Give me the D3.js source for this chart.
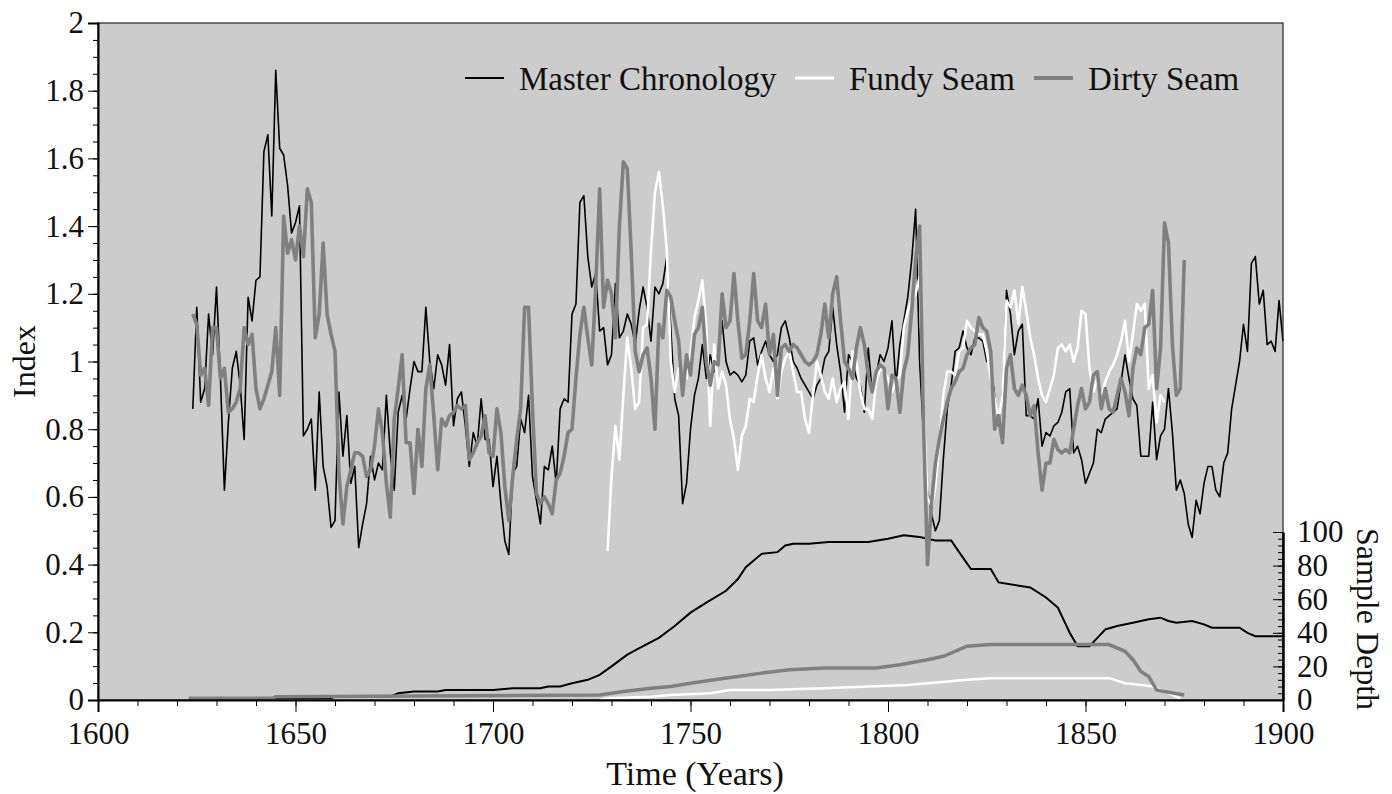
<!DOCTYPE html>
<html>
<head>
<meta charset="utf-8">
<script src="https://cdn.jsdelivr.net/npm/d3@7"></script>
<style>
  body { margin: 0; background: #fff; }
  svg text { font-family: "Liberation Serif", "Times New Roman", serif; fill: #111; }
</style>
</head>
<body>
<div id="chart"></div>
<script>
// master chronology index [year, index]
const masterIndex = [
  [1624,0.86],[1625,1.16],[1626,0.88],[1627,0.92],[1628,1.14],[1629,1.02],[1630,1.22],[1631,0.95],[1632,0.62],[1633,0.82],
  [1634,0.98],[1635,1.03],[1636,0.93],[1637,0.77],[1638,1.19],[1639,1.12],[1640,1.24],[1641,1.25],[1642,1.62],[1643,1.67],
  [1644,1.43],[1645,1.86],[1646,1.63],[1647,1.61],[1648,1.52],[1649,1.38],[1650,1.41],[1651,1.46],[1652,0.78],[1653,0.80],
  [1654,0.83],[1655,0.62],[1656,0.91],[1657,0.69],[1658,0.63],[1659,0.51],[1660,0.53],[1661,0.91],[1662,0.72],[1663,0.84],
  [1664,0.64],[1665,0.69],[1666,0.45],[1667,0.52],[1668,0.58],[1669,0.72],[1670,0.65],[1671,0.70],[1672,0.68],[1673,0.90],
  [1674,0.73],[1675,0.62],[1676,0.85],[1677,0.90],[1678,0.83],[1679,0.92],[1680,1.00],[1681,0.97],[1682,0.97],[1683,1.16],
  [1684,1.00],[1685,0.92],[1686,1.02],[1687,0.99],[1688,0.93],[1689,1.05],[1690,0.81],[1691,0.89],[1692,0.91],[1693,0.81],
  [1694,0.69],[1695,0.79],[1696,0.75],[1697,0.89],[1698,0.77],[1699,0.77],[1700,0.63],[1701,0.72],[1702,0.58],[1703,0.47],
  [1704,0.43],[1705,0.67],[1706,0.69],[1707,0.83],[1708,0.79],[1709,0.90],[1710,0.66],[1711,0.59],[1712,0.52],[1713,0.69],
  [1714,0.68],[1715,0.75],[1716,0.64],[1717,0.86],[1718,0.89],[1719,0.88],[1720,1.14],[1721,1.17],[1722,1.47],[1723,1.49],
  [1724,1.31],[1725,1.22],[1726,1.26],[1727,1.09],[1728,1.10],[1729,0.99],[1730,1.02],[1731,1.23],[1732,1.07],[1733,1.09],
  [1734,1.14],[1735,1.11],[1736,1.05],[1737,1.15],[1738,1.22],[1739,1.16],[1740,1.06],[1741,1.22],[1742,1.20],[1743,1.23],
  [1744,1.31],[1745,1.10],[1746,0.89],[1747,0.84],[1748,0.58],[1749,0.64],[1750,0.80],[1751,0.90],[1752,0.95],[1753,1.05],
  [1754,0.95],[1755,1.02],[1756,0.97],[1757,1.03],[1758,1.12],[1759,1.00],[1760,0.96],[1761,0.97],[1762,0.96],[1763,0.94],
  [1764,0.96],[1765,1.06],[1766,1.07],[1767,0.99],[1768,1.03],[1769,1.06],[1770,1.02],[1771,1.00],[1772,1.02],[1773,1.10],
  [1774,1.12],[1775,1.07],[1776,1.00],[1777,0.98],[1778,0.95],[1779,0.93],[1780,0.91],[1781,0.89],[1782,0.93],[1783,0.95],
  [1784,1.01],[1785,1.03],[1786,1.16],[1787,1.05],[1788,0.97],[1789,0.85],[1790,1.02],[1791,1.00],[1792,0.95],[1793,0.93],
  [1794,0.85],[1795,1.04],[1796,0.91],[1797,0.96],[1798,1.02],[1799,1.00],[1800,1.04],[1801,1.12],[1802,0.93],[1803,1.05],
  [1804,1.12],[1805,1.19],[1806,1.30],[1807,1.45],[1808,1.00],[1809,0.78],[1810,0.62],[1811,0.55],[1812,0.50],[1813,0.53],
  [1814,0.71],[1815,0.86],[1816,0.93],[1817,1.03],[1818,1.04],[1819,1.09],[1820,1.04],[1821,1.02],[1822,1.07],[1823,1.07],
  [1824,1.06],[1825,1.00],[1826,0.99],[1827,0.90],[1828,0.81],[1829,0.91],[1830,1.21],[1831,1.14],[1832,1.02],[1833,1.09],
  [1834,1.11],[1835,0.84],[1836,0.84],[1837,0.83],[1838,0.89],[1839,0.75],[1840,0.79],[1841,0.78],[1842,0.81],[1843,0.82],
  [1844,0.85],[1845,0.91],[1846,0.92],[1847,0.73],[1848,0.75],[1849,0.71],[1850,0.64],[1851,0.67],[1852,0.70],[1853,0.80],
  [1854,0.79],[1855,0.83],[1856,0.84],[1857,0.85],[1858,0.86],[1859,0.94],[1860,1.02],[1861,0.95],[1862,0.89],[1863,0.87],
  [1864,0.72],[1865,0.72],[1866,0.72],[1867,0.88],[1868,0.71],[1869,0.78],[1870,0.80],[1871,0.92],[1872,0.79],[1873,0.62],
  [1874,0.65],[1875,0.61],[1876,0.52],[1877,0.48],[1878,0.59],[1879,0.55],[1880,0.64],[1881,0.69],[1882,0.69],[1883,0.62],
  [1884,0.60],[1885,0.70],[1886,0.73],[1887,0.86],[1888,0.93],[1889,1.00],[1890,1.11],[1891,1.03],[1892,1.29],[1893,1.31],
  [1894,1.17],[1895,1.21],[1896,1.05],[1897,1.06],[1898,1.03],[1899,1.18],[1900,1.06]
];

// fundy seam index
const fundyIndex = [
  [1729,0.44],[1730,0.66],[1731,0.81],[1732,0.71],[1733,0.90],[1734,1.07],[1735,0.98],[1736,0.86],[1737,0.88],[1738,1.10],
  [1739,1.11],[1740,1.33],[1741,1.50],[1742,1.56],[1743,1.46],[1744,1.33],[1745,1.00],[1746,0.91],[1747,0.98],[1748,0.95],
  [1749,0.95],[1750,1.02],[1751,1.13],[1752,1.18],[1753,1.24],[1754,1.10],[1755,0.81],[1756,1.05],[1757,0.92],[1758,0.97],
  [1759,0.93],[1760,0.83],[1761,0.77],[1762,0.68],[1763,0.78],[1764,0.81],[1765,0.89],[1766,0.88],[1767,0.96],[1768,1.02],
  [1769,0.95],[1770,0.91],[1771,0.98],[1772,0.89],[1773,0.97],[1774,1.01],[1775,1.03],[1776,0.97],[1777,0.91],[1778,0.91],
  [1779,0.83],[1780,0.79],[1781,0.90],[1782,1.00],[1783,0.96],[1784,0.91],[1785,0.89],[1786,0.95],[1787,0.88],[1788,0.92],
  [1789,0.94],[1790,0.83],[1791,1.03],[1792,1.00],[1793,0.91],[1794,0.86],[1795,0.86],[1796,0.83],[1797,0.94],[1798,0.98],
  [1799,0.97],[1800,0.95],[1801,0.91],[1802,0.94],[1803,0.96],[1804,1.10],[1805,1.15],[1806,1.18],[1807,1.20],[1808,1.25],
  [1809,0.86],[1810,0.60],[1811,0.57],[1812,0.63],[1813,0.76],[1814,0.90],[1815,0.97],[1816,0.97],[1817,0.96],[1818,1.03],
  [1819,1.04],[1820,1.12],[1821,1.10],[1822,1.09],[1823,1.08],[1824,1.08],[1825,1.03],[1826,0.95],[1827,0.89],[1828,0.83],
  [1829,0.90],[1830,1.18],[1831,1.16],[1832,1.21],[1833,1.11],[1834,1.22],[1835,1.15],[1836,1.07],[1837,1.02],[1838,0.95],
  [1839,0.90],[1840,0.88],[1841,0.92],[1842,0.96],[1843,1.04],[1844,1.05],[1845,1.03],[1846,1.05],[1847,1.00],[1848,1.04],
  [1849,1.15],[1850,1.14],[1851,0.98],[1852,0.91],[1853,0.95],[1854,0.89],[1855,0.94],[1856,0.97],[1857,0.99],[1858,1.02],
  [1859,1.06],[1860,1.12],[1861,1.00],[1862,1.08],[1863,1.17],[1864,1.15],[1865,1.17],[1866,0.92],[1867,0.96],[1868,0.82],
  [1869,0.90],[1870,0.88]
];

// dirty seam index
const dirtyIndex = [
  [1624,1.14],[1625,1.11],[1626,0.96],[1627,0.98],[1628,0.87],[1629,1.10],[1630,1.10],[1631,0.95],[1632,0.98],[1633,0.85],
  [1634,0.86],[1635,0.88],[1636,0.92],[1637,1.10],[1638,1.05],[1639,1.08],[1640,0.92],[1641,0.86],[1642,0.89],[1643,0.93],
  [1644,0.97],[1645,1.10],[1646,0.90],[1647,1.43],[1648,1.32],[1649,1.36],[1650,1.30],[1651,1.40],[1652,1.31],[1653,1.51],
  [1654,1.47],[1655,1.07],[1656,1.14],[1657,1.35],[1658,1.14],[1659,1.08],[1660,1.03],[1661,0.67],[1662,0.52],[1663,0.63],
  [1664,0.68],[1665,0.73],[1666,0.73],[1667,0.72],[1668,0.66],[1669,0.68],[1670,0.75],[1671,0.86],[1672,0.79],[1673,0.64],
  [1674,0.54],[1675,0.83],[1676,0.92],[1677,1.02],[1678,0.76],[1679,0.76],[1680,0.61],[1681,0.80],[1682,0.69],[1683,0.92],
  [1684,0.99],[1685,0.84],[1686,0.68],[1687,0.83],[1688,0.81],[1689,0.84],[1690,0.85],[1691,0.87],[1692,0.86],[1693,0.87],
  [1694,0.71],[1695,0.73],[1696,0.76],[1697,0.78],[1698,0.84],[1699,0.73],[1700,0.72],[1701,0.86],[1702,0.79],[1703,0.63],
  [1704,0.53],[1705,0.66],[1706,0.77],[1707,0.86],[1708,1.16],[1709,1.16],[1710,0.86],[1711,0.61],[1712,0.58],[1713,0.60],
  [1714,0.58],[1715,0.55],[1716,0.65],[1717,0.67],[1718,0.72],[1719,0.79],[1720,0.80],[1721,0.95],[1722,1.08],[1723,1.16],
  [1724,1.07],[1725,0.99],[1726,1.22],[1727,1.51],[1728,1.16],[1729,1.24],[1730,1.20],[1731,1.07],[1732,1.40],[1733,1.59],
  [1734,1.57],[1735,1.32],[1736,1.03],[1737,0.97],[1738,1.02],[1739,1.04],[1740,0.95],[1741,0.80],[1742,1.11],[1743,1.07],
  [1744,1.21],[1745,1.19],[1746,1.12],[1747,1.06],[1748,0.90],[1749,1.02],[1750,0.96],[1751,1.08],[1752,1.10],[1753,1.16],
  [1754,1.00],[1755,0.93],[1756,1.00],[1757,0.99],[1758,1.20],[1759,1.10],[1760,1.12],[1761,1.26],[1762,1.12],[1763,1.01],
  [1764,1.02],[1765,1.12],[1766,1.26],[1767,1.12],[1768,1.10],[1769,1.17],[1770,1.02],[1771,1.08],[1772,0.90],[1773,1.04],
  [1774,1.05],[1775,1.03],[1776,1.05],[1777,1.04],[1778,1.02],[1779,1.00],[1780,0.99],[1781,1.00],[1782,1.02],[1783,1.08],
  [1784,1.17],[1785,1.07],[1786,1.20],[1787,1.25],[1788,1.12],[1789,1.00],[1790,0.98],[1791,0.95],[1792,1.04],[1793,1.10],
  [1794,1.05],[1795,0.96],[1796,0.91],[1797,0.97],[1798,0.99],[1799,0.98],[1800,0.86],[1801,0.96],[1802,0.95],[1803,0.85],
  [1804,0.97],[1805,1.02],[1806,1.15],[1807,1.30],[1808,1.40],[1809,0.81],[1810,0.40],[1811,0.58],[1812,0.70],[1813,0.77],
  [1814,0.83],[1815,0.88],[1816,0.92],[1817,0.94],[1818,0.97],[1819,0.98],[1820,1.02],[1821,1.04],[1822,1.05],[1823,1.13],
  [1824,1.10],[1825,1.09],[1826,1.03],[1827,0.80],[1828,0.84],[1829,0.76],[1830,0.98],[1831,1.02],[1832,0.92],[1833,0.90],
  [1834,0.93],[1835,0.90],[1836,0.84],[1837,0.87],[1838,0.73],[1839,0.62],[1840,0.70],[1841,0.70],[1842,0.77],[1843,0.74],
  [1844,0.73],[1845,0.74],[1846,0.73],[1847,0.80],[1848,0.87],[1849,0.92],[1850,0.86],[1851,0.88],[1852,0.96],[1853,0.97],
  [1854,0.86],[1855,0.92],[1856,0.86],[1857,0.85],[1858,0.90],[1859,0.95],[1860,0.91],[1861,0.84],[1862,0.98],[1863,1.04],
  [1864,1.02],[1865,1.10],[1866,1.11],[1867,1.21],[1868,0.92],[1869,1.04],[1870,1.41],[1871,1.35],[1872,1.05],[1873,0.90],
  [1874,0.92],[1875,1.30]
];

// sample depth (right axis) [year, trees]
const masterDepth = [
  [1623,1],[1659,1],[1660,2],[1674,2],[1676,4],[1680,5],[1686,5],[1688,6],[1700,6],[1705,7],[1712,7],[1714,8],[1717,8],
  [1720,10],[1724,12],[1727,15],[1730,20],[1734,27],[1738,32],[1742,37],[1746,44],[1750,52],[1754,58],[1759,65],[1762,72],
  [1764,79],[1768,87],[1772,88],[1774,92],[1776,93],[1780,93],[1785,94],[1790,94],[1795,94],[1800,96],[1804,98],[1808,97],
  [1812,95],[1816,95],[1818,88],[1821,78],[1826,78],[1828,70],[1836,67],[1840,61],[1843,55],[1846,40],[1848,32],[1851,32],
  [1853,37],[1855,42],[1858,44],[1862,46],[1866,48],[1869,49],[1871,47],[1873,46],[1877,47],[1880,45],[1882,43],[1889,43],
  [1891,40],[1893,38],[1900,38]
];
const dirtyDepth = [
  [1623,1],[1644,1],[1645,2],[1727,3],[1733,5],[1740,7],[1745,8],[1750,10],[1756,12],[1762,14],[1768,16],[1775,18],
  [1784,19],[1797,19],[1803,21],[1810,24],[1814,26],[1818,30],[1820,32],[1826,33],[1856,33],[1860,29],[1862,24],[1864,17],
  [1866,14],[1868,6],[1870,5],[1875,3]
];
const fundyDepth = [
  [1727,0],[1729,1],[1740,2],[1745,3],[1755,4],[1760,6],[1770,6],[1784,7],[1795,8],[1805,9],[1810,10],[1815,11],[1820,12],
  [1826,13],[1856,13],[1860,10],[1864,9],[1867,8],[1870,5],[1874,1]
];

const seriesNames = ["Master Chronology", "Fundy Seam", "Dirty Seam"];
const xTicks = [1600, 1650, 1700, 1750, 1800, 1850, 1900];
const yTicks = [0, 0.2, 0.4, 0.6, 0.8, 1, 1.2, 1.4, 1.6, 1.8, 2];
const depthTicks = [0, 20, 40, 60, 80, 100];

const W = 1392, H = 794;
const plot = {left: 98, right: 1283, top: 23, bottom: 700};

const svg = d3.select("#chart").append("svg")
  .attr("width", W)
  .attr("height", H);

const x = d3.scaleLinear().domain([1600, 1900]).range([plot.left, plot.right]);
const y = d3.scaleLinear().domain([0, 2]).range([plot.bottom, plot.top]);
const yDepth = d3.scaleLinear().domain([0, 100]).range([plot.bottom, 532]);

// plot background
svg.append("rect")
  .attr("x", plot.left)
  .attr("y", plot.top)
  .attr("width", plot.right - plot.left)
  .attr("height", plot.bottom - plot.top)
  .attr("fill", "#cccccc");

const lineIdx = d3.line().x(d => x(d[0])).y(d => y(d[1]));
const lineDep = d3.line().x(d => x(d[0])).y(d => yDepth(d[1]));

// sample depth curves
svg.append("path").datum(masterDepth).attr("d", lineDep)
  .attr("fill", "none").attr("stroke", "#000").attr("stroke-width", 2);
svg.append("path").datum(fundyDepth).attr("d", lineDep)
  .attr("fill", "none").attr("stroke", "#fff").attr("stroke-width", 2.5);
svg.append("path").datum(dirtyDepth).attr("d", lineDep)
  .attr("fill", "none").attr("stroke", "#808080").attr("stroke-width", 3.5);

// index curves
svg.append("path").datum(masterIndex).attr("d", lineIdx)
  .attr("fill", "none").attr("stroke", "#000").attr("stroke-width", 1.6).attr("stroke-linejoin", "round");
svg.append("path").datum(fundyIndex).attr("d", lineIdx)
  .attr("fill", "none").attr("stroke", "#fff").attr("stroke-width", 2.6).attr("stroke-linejoin", "round");
svg.append("path").datum(dirtyIndex).attr("d", lineIdx)
  .attr("fill", "none").attr("stroke", "#808080").attr("stroke-width", 3.6).attr("stroke-linejoin", "round");

// frame
svg.append("rect")
  .attr("x", plot.left)
  .attr("y", plot.top)
  .attr("width", plot.right - plot.left)
  .attr("height", plot.bottom - plot.top)
  .attr("fill", "none")
  .attr("stroke", "#222")
  .attr("stroke-width", 1.2);

const fontSize = 31;

// left axis
const fmt = d => String(+d.toFixed(1));
svg.append("g")
  .attr("transform", `translate(${plot.left},0)`)
  .call(d3.axisLeft(y).tickValues(d3.range(0, 2.001, 0.05)).tickSize(5).tickFormat(""))
  .call(g => g.select(".domain").remove());
const gy = svg.append("g")
  .attr("transform", `translate(${plot.left},0)`)
  .call(d3.axisLeft(y).tickValues(yTicks).tickSize(10).tickPadding(4).tickFormat(fmt));
gy.selectAll("text").attr("font-size", fontSize).attr("font-family", null);
gy.select(".domain").attr("stroke-width", 2);

// bottom axis
svg.append("g")
  .attr("transform", `translate(0,${plot.bottom})`)
  .call(d3.axisBottom(x).tickValues(d3.range(1600, 1901, 10)).tickSize(6).tickFormat(""))
  .call(g => g.select(".domain").remove());
const gx = svg.append("g")
  .attr("transform", `translate(0,${plot.bottom})`)
  .call(d3.axisBottom(x).tickValues(xTicks).tickSize(12).tickPadding(10).tickFormat(d3.format("d")));
gx.selectAll("text").attr("font-size", fontSize).attr("font-family", null);
gx.select(".domain").attr("stroke-width", 2);

// right axis (sample depth), ticks pointing inward
svg.append("g")
  .attr("transform", `translate(${plot.right},0)`)
  .call(d3.axisRight(yDepth).tickValues(d3.range(0, 101, 4)).tickSize(-5).tickSizeOuter(0).tickFormat(""))
  .call(g => g.select(".domain").remove());
const gr = svg.append("g")
  .attr("transform", `translate(${plot.right},0)`)
  .call(d3.axisRight(yDepth).tickValues(depthTicks).tickSize(-10).tickSizeOuter(0).tickPadding(14));
gr.selectAll("text").attr("font-size", fontSize).attr("font-family", null);
gr.select(".domain").attr("stroke-width", 2.5);

// axis titles
svg.append("text")
  .attr("x", 695)
  .attr("y", 785)
  .attr("text-anchor", "middle")
  .attr("font-size", 34)
  .text("Time (Years)");

svg.append("text")
  .attr("transform", `translate(35,${(plot.top + plot.bottom) / 2}) rotate(-90)`)
  .attr("text-anchor", "middle")
  .attr("font-size", 32)
  .text("Index");

svg.append("text")
  .attr("transform", `translate(1357,${(532 + plot.bottom) / 2 + 3}) rotate(90)`)
  .attr("text-anchor", "middle")
  .attr("font-size", 32)
  .text("Sample Depth");

// legend
const legendItems = [
  {name: seriesNames[0], color: "#000", w: 2, x: 465},
  {name: seriesNames[1], color: "#fff", w: 3, x: 795},
  {name: seriesNames[2], color: "#808080", w: 4, x: 1034}
];
const legend = svg.append("g").attr("transform", "translate(0,78)");
legend.selectAll("line")
  .data(legendItems)
  .enter()
  .append("line")
  .attr("x1", d => d.x)
  .attr("x2", d => d.x + 39)
  .attr("y1", 0)
  .attr("y2", 0)
  .attr("stroke", d => d.color)
  .attr("stroke-width", d => d.w);
legend.selectAll("text")
  .data(legendItems)
  .enter()
  .append("text")
  .attr("x", d => d.x + 54)
  .attr("y", 0)
  .attr("dy", "0.35em")
  .attr("font-size", 33)
  .text(d => d.name);
</script>
</body>
</html>
